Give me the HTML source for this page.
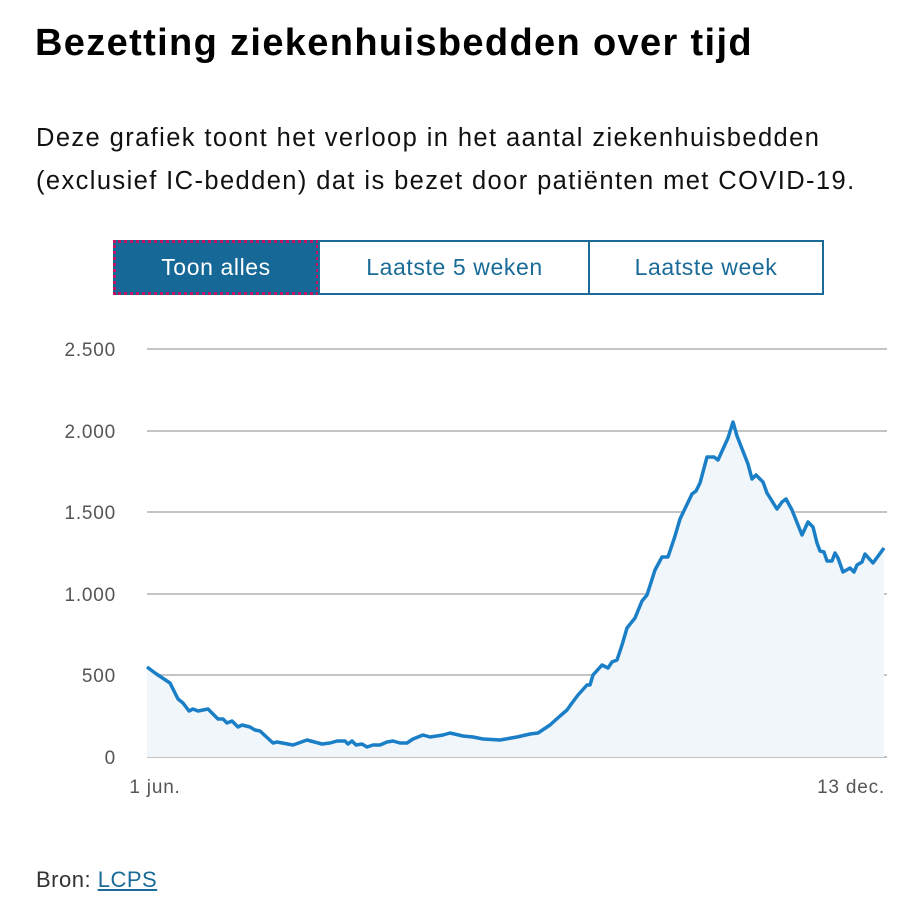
<!DOCTYPE html>
<html><head><meta charset="utf-8"><style>
body{margin:0;width:922px;height:918px;background:#fff;font-family:"Liberation Sans",sans-serif;color:#000;position:relative;overflow:hidden}
.t{position:absolute;left:35px;top:22px;font-size:38px;font-weight:bold;letter-spacing:1.35px;white-space:nowrap}
.s{position:absolute;left:36px;top:117px;font-size:25.5px;line-height:43px;color:#111;letter-spacing:1.4px;white-space:nowrap}
.b{position:absolute;top:240px;height:55px;box-sizing:border-box;border:2px solid #1a6b98;color:#1a6b98;font-size:23px;letter-spacing:0.6px;display:flex;align-items:center;justify-content:center}
.bron{position:absolute;left:36px;top:867px;font-size:22px;color:#333;letter-spacing:0.5px}
.bron a{color:#1a6b98;text-decoration:underline}
</style></head><body>
<div class="t">Bezetting ziekenhuisbedden over tijd</div>
<div class="s">Deze grafiek toont het verloop in het aantal ziekenhuisbedden<br>(exclusief IC-bedden) dat is bezet door patiënten met COVID-19.</div>
<div class="b" style="left:113px;width:206px;background:#166896;color:#fff;border:3px dotted #c3115f">Toon alles</div>
<div class="b" style="left:318px;width:271px;border-right:none">Laatste 5 weken</div>
<div class="b" style="left:588px;width:236px">Laatste week</div>
<svg style="position:absolute;left:0;top:0" width="922" height="918">
<g stroke="#c4c4c4" stroke-width="2">
<line x1="147" y1="349" x2="887" y2="349"/><line x1="147" y1="431" x2="887" y2="431"/><line x1="147" y1="512" x2="887" y2="512"/><line x1="147" y1="594" x2="887" y2="594"/><line x1="147" y1="675" x2="887" y2="675"/><line x1="147" y1="757" x2="887" y2="757"/>
</g>
<g font-size="19" fill="#555" text-anchor="end" font-family="Liberation Sans,sans-serif" letter-spacing="0.8">
<text x="116" y="356">2.500</text><text x="116" y="438">2.000</text><text x="116" y="519">1.500</text><text x="116" y="601">1.000</text><text x="116" y="682">500</text><text x="116" y="764">0</text>
<text x="155" y="793" text-anchor="middle">1 jun.</text><text x="885" y="793">13 dec.</text>
</g>
<polygon fill="#f1f6fb" points="147,757 147,667 155,673 170,683 178,699 183,703 189,711 193,709 198,711 208,709 218,719 223,719 227,723 232,721 238,727 242,725 250,727 255,730 260,731 273,743 277,742 293,745 307,740 322,744 330,743 337,741 345,741 348,744 352,741 356,745 362,744 367,747 373,745 380,745 387,742 393,741 400,743 407,743 413,739 423,735 430,737 443,735 450,733 463,736 473,737 483,739 500,740 517,737 530,734 538,733 550,725 560,716 567,710 572,703 578,695 587,685 590,685 593,675 602,665 608,668 612,662 617,660 622,645 627,628 635,618 642,601 647,595 655,570 662,557 668,557 675,536 680,519 692,494 696,491 700,483 707,457 714,457 718,460 728,438 733,422 737,436 748,464 752,479 756,475 763,482 767,493 772,501 777,509 782,502 786,499 792,510 802,535 808,522 813,527 817,543 820,551 824,552 827,561 832,561 835,553 838,558 843,572 850,568 854,572 857,565 862,562 865,554 873,563 884,548 884,757"/>
<polyline fill="none" stroke="#1a7fc6" stroke-width="3.5" stroke-linejoin="round" points="147,667 155,673 170,683 178,699 183,703 189,711 193,709 198,711 208,709 218,719 223,719 227,723 232,721 238,727 242,725 250,727 255,730 260,731 273,743 277,742 293,745 307,740 322,744 330,743 337,741 345,741 348,744 352,741 356,745 362,744 367,747 373,745 380,745 387,742 393,741 400,743 407,743 413,739 423,735 430,737 443,735 450,733 463,736 473,737 483,739 500,740 517,737 530,734 538,733 550,725 560,716 567,710 572,703 578,695 587,685 590,685 593,675 602,665 608,668 612,662 617,660 622,645 627,628 635,618 642,601 647,595 655,570 662,557 668,557 675,536 680,519 692,494 696,491 700,483 707,457 714,457 718,460 728,438 733,422 737,436 748,464 752,479 756,475 763,482 767,493 772,501 777,509 782,502 786,499 792,510 802,535 808,522 813,527 817,543 820,551 824,552 827,561 832,561 835,553 838,558 843,572 850,568 854,572 857,565 862,562 865,554 873,563 884,548"/>
</svg>
<div class="bron">Bron: <a>LCPS</a></div>
</body></html>
